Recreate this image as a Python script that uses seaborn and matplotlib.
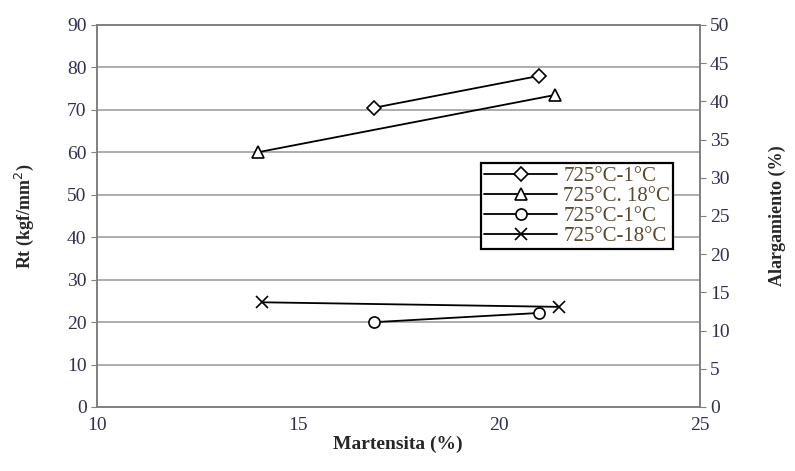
import pandas as pd
import seaborn as sns
import matplotlib.pyplot as plt

# left axis (Rt)
mart_d = [16.9, 21.0]
rt_d = [70.5, 78.0]
mart_t = [14.0, 21.4]
rt_t = [60.0, 73.5]
# right axis (alargamiento)
mart_o = [16.9, 21.0]
al_o = [11.1, 12.3]
mart_x = [14.1, 21.5]
al_x = [13.7, 13.1]

labels = ["725°C-1°C", "725°C. 18°C", "725°C-1°C", "725°C-18°C"]

sns.set_style("white")
plt.rcParams['font.family'] = ['Liberation Serif', 'DejaVu Serif']

fig = plt.figure(figsize=(7.95, 4.71), dpi=100)
ax = fig.add_axes([0.122, 0.136, 0.758, 0.811])
ax2 = ax.twinx()

kw = dict(color="black", linewidth=1.3, markersize=8, markerfacecolor="white",
          markeredgecolor="black", markeredgewidth=1.2)
sns.lineplot(x=mart_d, y=rt_d, ax=ax, marker="D", label=labels[0], **dict(kw, markersize=7))
sns.lineplot(x=mart_t, y=rt_t, ax=ax, marker="^", label=labels[1], **dict(kw, markersize=9))
sns.lineplot(x=mart_o, y=al_o, ax=ax2, marker="o", label=labels[2], **kw)
sns.lineplot(x=mart_x, y=al_x, ax=ax2, marker="x", label=labels[3], **dict(kw, markersize=9))

ax.set_xlim(10, 25)
ax.set_ylim(0, 90)
ax2.set_ylim(0, 50)
ax.set_xticks([10, 15, 20, 25])
ax.set_yticks(range(0, 91, 10))
ax2.set_yticks(range(0, 51, 5))
ax.yaxis.grid(True, color="#a0a0a0", linewidth=1.2)
ax.set_axisbelow(True)

for a in (ax, ax2):
    for s in a.spines.values():
        s.set_color("#808080")
        s.set_linewidth(1.2)
    a.tick_params(direction="out", length=4, color="#808080", labelsize=14, labelcolor="#303050")

ax.set_xlabel("Martensita (%)", fontsize=14, fontweight="bold", labelpad=1)
ax.set_ylabel("Rt (kgf/mm$^2$)", fontsize=13, fontweight="bold", labelpad=22)
ax2.set_ylabel("Alargamiento (%)", fontsize=13, fontweight="bold", labelpad=28)

h1, l1 = ax.get_legend_handles_labels()
h2, l2 = ax2.get_legend_handles_labels()
ax.get_legend().remove()
ax2.get_legend().remove()
leg = ax2.legend(h1 + h2, l1 + l2, loc="upper left", bbox_to_anchor=(0.62, 0.665),
                 fontsize=15, frameon=True, fancybox=False, borderpad=0.15,
                 labelspacing=0.02, handlelength=3.5, handletextpad=0.3,
                 edgecolor="black")
leg.get_frame().set_linewidth(1.6)
leg.get_frame().set_alpha(1)
for t in leg.get_texts():
    t.set_color("#5a4a30")

fig.savefig("out.png", dpi=100)
